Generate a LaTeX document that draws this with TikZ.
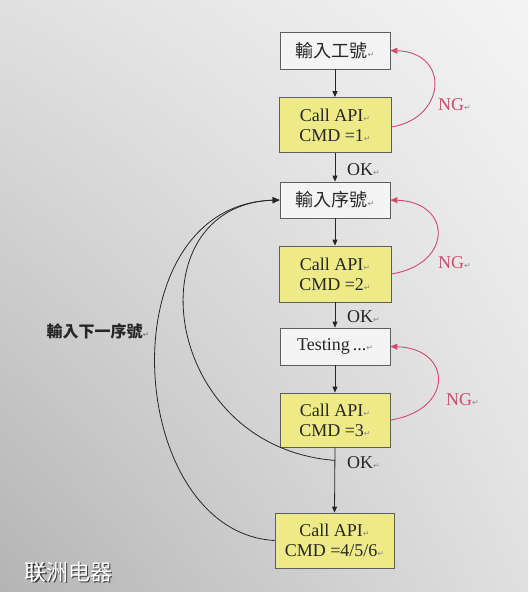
\documentclass[tikz,border=0pt]{standalone}
\usepackage{fontspec}
\setmainfont{Liberation Serif}
\newfontfamily\cjk{Noto Sans CJK TC}
\newfontfamily\cjksc{Noto Sans CJK SC}
\newfontfamily\dejavu{DejaVu Sans}
\usetikzlibrary{arrows.meta,calc,shadings}
\definecolor{boxline}{HTML}{5E5E5E}
\definecolor{boxwhite}{HTML}{F4F4F4}
\definecolor{boxyellow}{HTML}{EEEA88}
\definecolor{ngred}{HTML}{D24A6C}
\definecolor{txt}{HTML}{262626}
\definecolor{retgray}{HTML}{8A8A8A}
\definecolor{bgtl}{HTML}{E0E0E0}
\definecolor{bgtr}{HTML}{F4F4F4}
\definecolor{bgbl}{HTML}{B4B4B4}
\definecolor{bgbr}{HTML}{E0E0E0}
\definecolor{wmshadow}{HTML}{3C3C3C}
\newcommand{\retmark}{{\dejavu\fontsize{8}{8}\selectfont\textcolor{retgray}{↵}}}
\tikzset{
  flowbox/.style={draw=boxline,line width=0.8pt,minimum width=110pt,inner sep=0pt,align=center,
    font=\fontsize{18}{20}\selectfont,text=txt},
  plainbox/.style={flowbox,fill=boxwhite,minimum height=37pt},
  apibox/.style={flowbox,fill=boxyellow,minimum height=55pt},
  flowarrow/.style={draw=txt,line width=0.8pt,-{Triangle[length=6pt,width=5pt]}},
  ngarrow/.style={draw=ngred,line width=0.9pt,-{Triangle[length=7pt,width=6pt]}},
  backarrow/.style={draw=txt,line width=0.8pt,-{Triangle[length=7pt,width=6pt]}},
  lbl/.style={font=\fontsize{18}{20}\selectfont,text=txt,inner sep=0pt},
  nglbl/.style={font=\fontsize{18}{20}\selectfont,text=ngred,inner sep=0pt}
}
\begin{document}
\begin{tikzpicture}[x=1pt,y=-1pt]
\useasboundingbox (0,0) rectangle (528,592);
\shade[upper left=bgtl,upper right=bgtr,lower left=bgbl,lower right=bgbr]
  (0,0) rectangle (528,592);
% boxes
\node[plainbox] (b1) at (335,50.5) {\cjk 輸入工號\retmark};
\node[apibox,minimum width=112pt] (b2) at (335,125) {Call API\retmark\\CMD =1\retmark};
\node[plainbox,minimum height=36pt] (b3) at (335,200) {\cjk 輸入序號\retmark};
\node[apibox,minimum width=112pt,minimum height=56pt] (b4) at (335,274) {Call API\retmark\\CMD =2\retmark};
\node[plainbox] (b5) at (335,346.5) {Testing\,...\retmark};
\node[apibox,minimum height=54pt] (b6) at (335,420) {Call API\retmark\\CMD =3\retmark};
\node[apibox,minimum width=119pt] (b7) at (334.5,540.5) {Call API\retmark\\CMD =4/5/6\retmark};
% vertical flow
\draw[flowarrow] (b1) -- (b2);
\draw[flowarrow] (b2) -- (b3);
\draw[flowarrow] (b3) -- (b4);
\draw[flowarrow] (b4) -- (b5);
\draw[flowarrow] (b5) -- (b6);
\draw[flowarrow] (b6.south) -- (b7.north);
\coordinate (k) at ($(b6.south)+(0,13)$);
% OK labels
\node[lbl,anchor=west] (ok1) at (347,170) {OK\retmark};
\node[lbl,anchor=west] (ok2) at (347,317) {OK\retmark};
\node[lbl,anchor=west] (ok3) at (347,463) {OK\retmark};
% NG loops
\draw[ngarrow] ($(b2.east)+(0,2)$) .. controls +(55,-9) and +(60,2) .. (b1.east);
\draw[ngarrow] (b4.east) .. controls +(62,-10) and +(62,2) .. (b3.east);
\draw[ngarrow] (b6.east) .. controls +(64,-10) and +(62,2) .. (b5.east);
\node[nglbl,anchor=west] (ng1) at (438,105) {NG\retmark};
\node[nglbl,anchor=west] (ng2) at (438,263) {NG\retmark};
\node[nglbl,anchor=west] (ng3) at (446,400) {NG\retmark};
% back loops to next serial
\draw[backarrow] (k) .. controls (160,447) and (132,205) .. (b3.west);
\draw[backarrow] (b7.west) .. controls (125,532) and (105,205) .. (b3.west);
\node[lbl,font=\cjk\bfseries\fontsize{16}{18}\selectfont] (next) at (98,331) {輸入下一序號\retmark};
% watermark
\node[font=\cjksc\fontsize{22}{24}\selectfont,text=wmshadow,inner sep=0pt,anchor=west] at (25.8,573.2) {联洲电器};
\node[font=\cjksc\fontsize{22}{24}\selectfont,text=white,inner sep=0pt,anchor=west] (wm) at (24.5,572) {联洲电器};
\end{tikzpicture}
\end{document}
